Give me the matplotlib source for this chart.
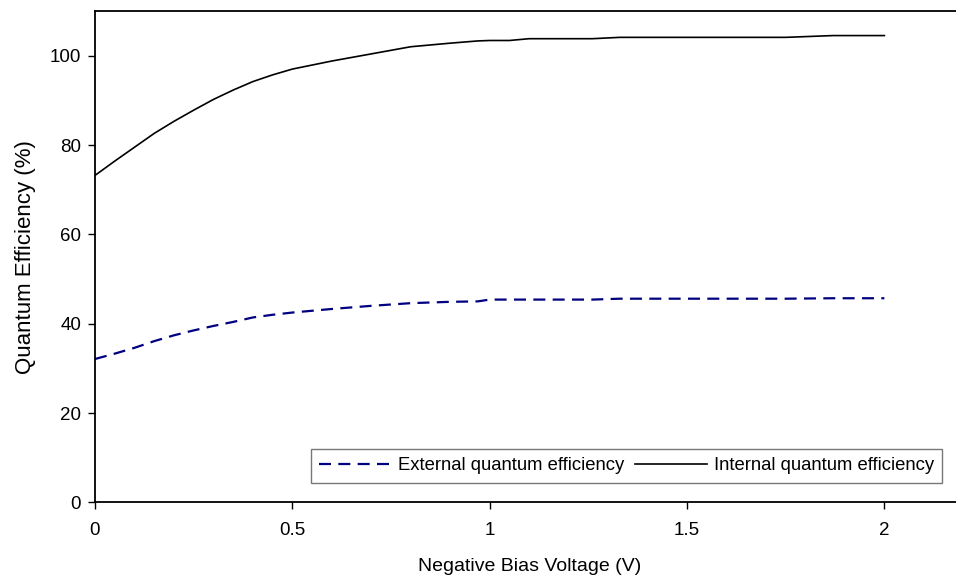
import matplotlib
matplotlib.use("Agg")
import matplotlib.pyplot as plt

plt.rcParams['font.family'] = ['Liberation Sans', 'DejaVu Sans']

voltage = [0, 0.05, 0.1, 0.15, 0.2, 0.25, 0.3, 0.35, 0.4, 0.45, 0.5, 0.6, 0.7,
           0.8, 0.9, 0.97, 1.0, 1.05, 1.1, 1.26, 1.33, 1.5, 1.75, 1.87, 2.0]
internal_qe = [73.2, 76.4, 79.5, 82.6, 85.3, 87.8, 90.2, 92.3, 94.2, 95.7, 97.0,
               98.8, 100.4, 102.0, 102.8, 103.3, 103.4, 103.4, 103.8, 103.8,
               104.1, 104.1, 104.1, 104.5, 104.5]
external_qe = [32.1, 33.3, 34.6, 36.1, 37.4, 38.5, 39.5, 40.4, 41.4, 42.0, 42.5,
               43.3, 44.0, 44.6, 44.9, 45.0, 45.4, 45.4, 45.4, 45.4, 45.6,
               45.6, 45.6, 45.7, 45.7]

x_ticks = [0, 0.5, 1, 1.5, 2]
x_tick_labels = ['0', '0.5', '1', '1.5', '2']
y_ticks = [0, 20, 40, 60, 80, 100]

fig = plt.figure(figsize=(9.56, 5.78), dpi=100)
ax = fig.add_axes([95/956, 1 - 502.4/578, 868.3/956, 491.4/578])

ax.plot(voltage, external_qe, color='#000080', lw=1.6, dashes=(5.4, 3.3),
        label='External quantum efficiency')
ax.plot(voltage, internal_qe, color='black', lw=1.2,
        label='Internal quantum efficiency')

ax.set_xlim(0, 2.2)
ax.set_ylim(0, 110)
ax.set_xticks(x_ticks)
ax.set_xticklabels(x_tick_labels)
ax.set_yticks(y_ticks)
ax.tick_params(direction='out', length=5, width=1, labelsize=13.5, pad=5)
ax.tick_params(axis='x', pad=9)
for s in ['left', 'bottom', 'top']:
    ax.spines[s].set_linewidth(1.3)
ax.spines['right'].set_visible(False)

ax.set_xlabel('Negative Bias Voltage (V)', fontsize=14, labelpad=14)
ax.set_ylabel('Quantum Efficiency (%)', fontsize=16, labelpad=10)

leg = ax.legend(loc='upper left', bbox_to_anchor=(311/956, 1 - 449/578),
                bbox_transform=fig.transFigure, ncol=2, frameon=True,
                fancybox=False, fontsize=13.3, handlelength=3.9,
                handletextpad=0.35, columnspacing=0.6, borderpad=0.45,
                borderaxespad=0)
leg.get_frame().set_edgecolor('#555555')
leg.get_frame().set_linewidth(1.0)

fig.savefig('out.png', dpi=100)
